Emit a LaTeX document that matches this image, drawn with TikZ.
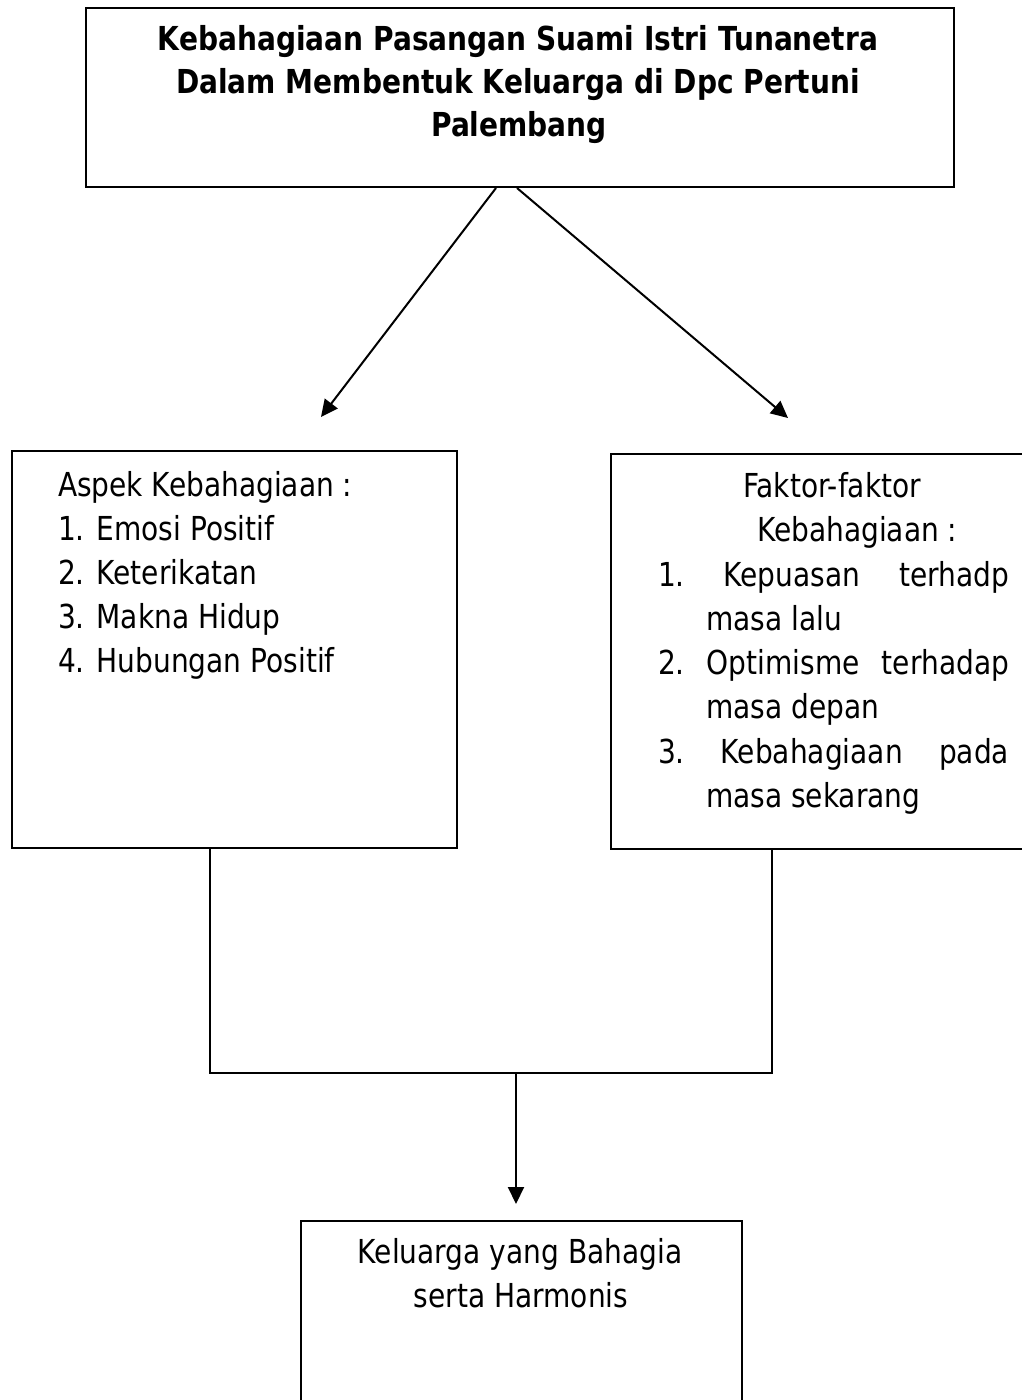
\documentclass[tikz,border=0pt]{standalone}
\usepackage{fontspec}
\setmainfont{DejaVu Sans}[FakeStretch=0.85]
\usetikzlibrary{arrows.meta,positioning}

\begin{document}
\begin{tikzpicture}[x=1pt,y=-1pt,line width=2pt,
  kotak/.style={draw,line width=2pt,anchor=north west,inner sep=0pt},
  teks/.style={anchor=base west,inner sep=0pt,font=\fontsize{33}{44}\selectfont},
  tengah/.style={anchor=base,inner sep=0pt,font=\fontsize{33}{44}\selectfont},
  judul/.style={anchor=base,inner sep=0pt,font=\fontsize{33}{44}\selectfont\bfseries},
  panah/.style={-{Triangle[length=17pt,width=16pt]}}]
\clip (0,0) rectangle (1022,1400);
% kotak
\node[kotak,minimum width=868pt,minimum height=179pt] (utama) at (85,7) {};
\node[kotak,minimum width=445pt,minimum height=397pt] (aspek) at (11,450) {};
\node[kotak,minimum width=430pt,minimum height=395pt] (faktor) at (610,453) {};
\node[kotak,minimum width=441pt,minimum height=220pt] (hasil) at (300,1220) {};
% judul
\node[judul] (j1) at (518,50) {Kebahagiaan Pasangan Suami Istri Tunanetra};
\node[judul] (j2) at (518,93) {Dalam Membentuk Keluarga di Dpc Pertuni};
\node[judul] (j3) at (519,136) {Palembang};
% aspek
\node[teks] (a0) at (57,496) {Aspek Kebahagiaan :};
\node[teks] (a1) at (57,540) {1. Emosi Positif};
\node[teks] (a2) at (57,584) {2. Keterikatan};
\node[teks] (a3) at (57,628) {3. Makna Hidup};
\node[teks] (a4) at (57,672) {4. Hubungan Positif};
% faktor
\node[teks] (f0) at (742,497) {Faktor-faktor};
\node[teks] (f1) at (756,541) {Kebahagiaan :};
\node[teks] (f2) at (657,586) {\makebox[351pt][l]{1.\hfill Kepuasan\hfill terhadp}};
\node[teks] (f3) at (705,630) {masa lalu};
\node[teks] (f4) at (657,674) {\makebox[351pt][l]{2.\hfill Optimisme\hfill terhadap}};
\node[teks] (f5) at (705,718) {masa depan};
\node[teks] (f6) at (657,763) {\makebox[351pt][l]{3.\hfill Kebahagiaan\hfill pada}};
\node[teks] (f7) at (705,807) {masa sekarang};
% hasil
\node[tengah] (h1) at (520,1263) {Keluarga yang Bahagia};
\node[tengah] (h2) at (521,1307) {serta Harmonis};
% panah
\coordinate (ujungA) at (321,417);
\coordinate (ujungF) at (788,418);
\draw[panah] ([xshift=-24pt]utama.south) -- (ujungA);
\draw[panah] ([xshift=-3pt]utama.south) -- (ujungF);
\coordinate (gabungA) at (210,1073);
\coordinate (gabungF) at (772,1073);
\coordinate (gabungT) at (516,1073);
\draw (aspek.south -| gabungA) -- (gabungA) -- (gabungF) -- (faktor.south -| gabungF);
\draw[panah,shorten >=16pt] (gabungT) -- (hasil.north -| gabungT);
\end{tikzpicture}
\end{document}
